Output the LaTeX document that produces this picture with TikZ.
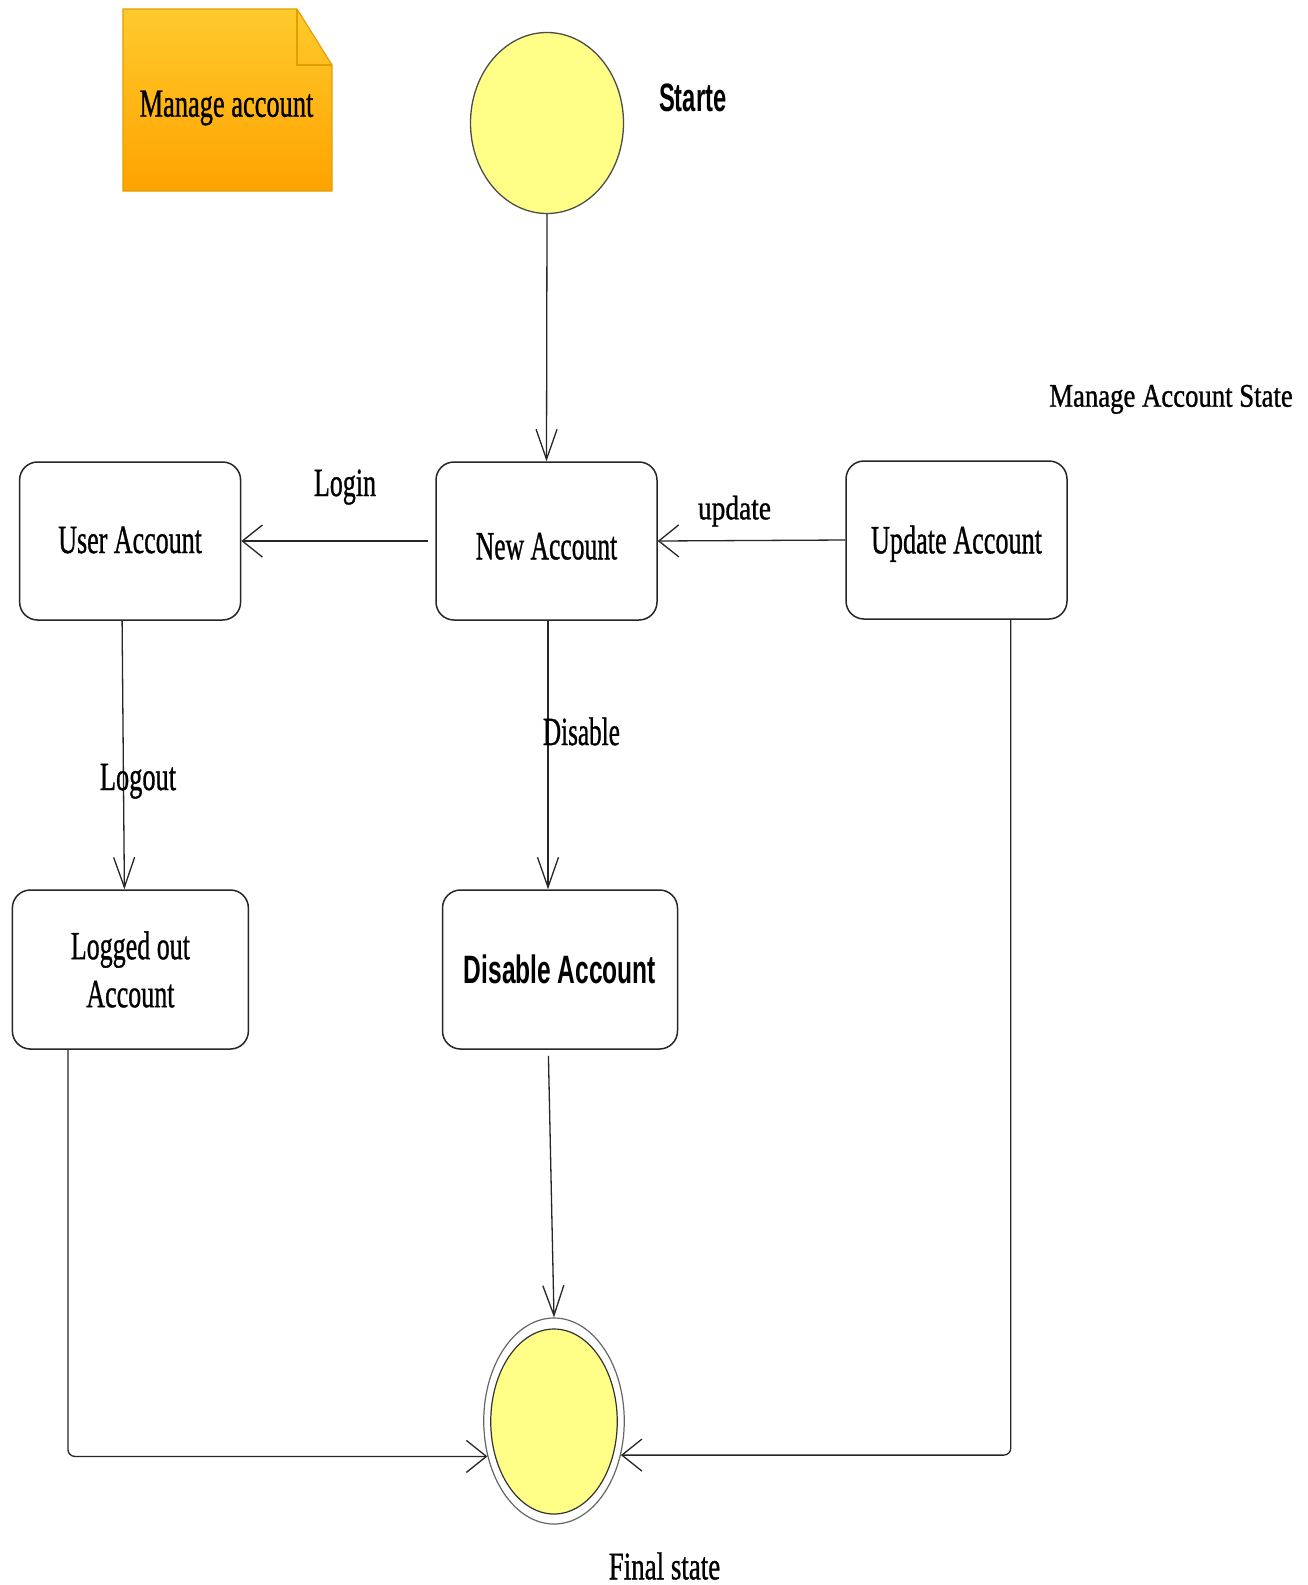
\documentclass[tikz,border=0pt]{standalone}
\usepackage{fontspec}
\setmainfont{Liberation Serif}[FakeBold=1]
\newfontfamily\headsans{Liberation Sans}
\usetikzlibrary{shapes.geometric,arrows.meta}
% horizontally condensed text
\newcommand\narrow[2]{\scalebox{#1}[1]{#2}}
\definecolor{stateyellow}{HTML}{FFFF88}
\definecolor{notetop}{HTML}{FFCA2C}
\definecolor{notebottom}{HTML}{FFA300}
\definecolor{noteedge}{HTML}{E0A000}

\begin{document}
\begin{tikzpicture}[x=1pt,y=-1pt,
  statebox/.style={draw=black!85, line width=1.5pt, rounded corners=18pt,
    inner sep=0pt, fill=white, font=\fontsize{40}{48}\selectfont, align=center},
  conn/.style={draw=black!85, line width=1.3pt},
  vtip/.style={-{Straight Barb[length=30pt,width=21pt]}},
  htip/.style={-{Straight Barb[length=20pt,width=32pt]}},
  lbl/.style={anchor=base, inner sep=0pt, font=\fontsize{40}{48}\selectfont},
]
% canvas
\fill[white] (0,0) rectangle (1307,1585);
\useasboundingbox (0,0) rectangle (1307,1585);

% note with folded corner
\shade[top color=notetop, bottom color=notebottom]
  (123,9) -- (297,9) -- (332,65) -- (332,191) -- (123,191) -- cycle;
\draw[noteedge, line width=1.2pt]
  (123,9) -- (297,9) -- (332,65) -- (332,191) -- (123,191) -- cycle;
\draw[noteedge, line width=1.2pt] (297,9) -- (297,65) -- (332,65);
\node[lbl] (notetext) at (226.5,116.7) {\narrow{0.66}{Manage account}};

% initial state
\node[ellipse, draw=black!70, line width=1.3pt, fill=stateyellow, inner sep=0pt,
  minimum width=153pt, minimum height=181pt] (start) at (547,123) {};
\node[lbl, font=\headsans\bfseries\fontsize{39.6}{46}\selectfont] (startlbl)
  at (692.7,111.7) {\narrow{0.6}{Starte}};

\node[lbl, font=\fontsize{33}{40}\selectfont] (title) at (1171,406.7)
  {\narrow{0.81}{Manage Account State}};

% states
\node[statebox, minimum width=221pt, minimum height=158pt,
  text height=24pt, text depth=0pt] (user) at (130.1,541)
  {\narrow{0.65}{User Account}};
\node[statebox, minimum width=221pt, minimum height=158pt,
  text height=36.6pt, text depth=0pt] (new) at (546.5,541)
  {\narrow{0.64}{New Account}};
\node[statebox, minimum width=221pt, minimum height=158pt,
  text height=26.6pt, text depth=0pt] (update) at (956.5,540)
  {\narrow{0.655}{Update Account}};
\node[statebox, minimum width=236pt, minimum height=159pt] (logged) at (130.4,969.5)
  {\narrow{0.65}{Logged out}\\\narrow{0.65}{Account}};
\node[statebox, minimum width=235pt, minimum height=159pt,
  font=\headsans\bfseries\fontsize{39.6}{46}\selectfont,
  text height=27.6pt, text depth=0pt] (disable) at (560,969.5)
  {\narrow{0.62}{Disable Account}};

% final state
\node[ellipse, draw=black!60, line width=1.2pt, fill=white, inner sep=0pt,
  minimum width=140.5pt, minimum height=206pt] (finalout) at (554,1421) {};
\node[ellipse, draw=black!80, line width=1.2pt, fill=stateyellow, inner sep=0pt,
  minimum width=126.5pt, minimum height=185pt] (finalin) at (554,1421.5) {};
\node[lbl, font=\fontsize{39}{46}\selectfont] (finallbl) at (664.5,1579.3)
  {\narrow{0.69}{Final state}};

% transitions
\draw[conn, vtip] (start.south) -- (new.north);
\draw[conn, htip, shorten <=7pt] (new.west) -- (user.east);
\draw[conn, htip] (update.west) -- (new.east);
\draw[conn, vtip] ([xshift=-8pt]user.south) -- ([xshift=-6pt]logged.north);
\draw[conn, vtip] ([xshift=1.5pt]new.south) -- ([xshift=-12pt]disable.north);
\draw[conn, vtip, shorten <=6pt] ([xshift=-11.7pt]disable.south) -- (finalout.north);
\draw[conn, htip, rounded corners=7pt]
  ([xshift=-62.5pt]logged.south) |- (finalout.208.5);
\draw[conn, htip, rounded corners=7pt]
  ([xshift=54.3pt]update.south) |- (finalout.-27);

% transition labels
\node[lbl] (loginlbl) at (345,496) {\narrow{0.65}{Login}};
\node[lbl, font=\fontsize{34}{40}\selectfont] (updatelbl) at (734.5,519.3)
  {\narrow{0.805}{update}};
\node[lbl] (logoutlbl) at (138,790) {\narrow{0.66}{Logout}};
\node[lbl] (disablelbl) at (581.4,745) {\narrow{0.63}{Disable}};
\end{tikzpicture}
\end{document}
